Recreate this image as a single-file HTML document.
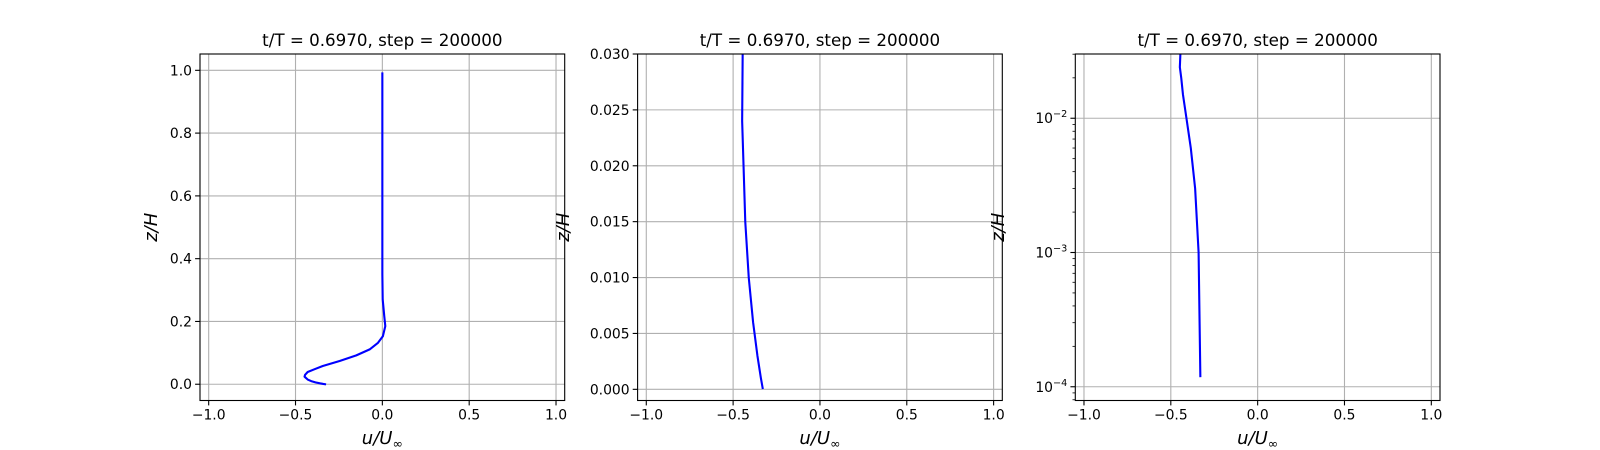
<!DOCTYPE html>
<html><head><meta charset="utf-8"><style>
html,body{margin:0;padding:0;background:#fff;}
svg{display:block;font-family:"DejaVu Sans","Liberation Sans",sans-serif;}
</style></head><body>
<svg id="fig" width="1600" height="450" xmlns="http://www.w3.org/2000/svg"></svg>
<script>
const zData = [0.00012, 0.001, 0.003, 0.006, 0.01, 0.015, 0.02, 0.024, 0.03, 0.039, 0.048, 0.058, 0.074, 0.092, 0.111, 0.132, 0.153, 0.185, 0.217, 0.27, 0.35, 0.5, 0.7, 0.99];
const uData = [-0.33, -0.34, -0.36, -0.385, -0.41, -0.43, -0.44, -0.448, -0.445, -0.43, -0.39, -0.343, -0.246, -0.15, -0.073, -0.025, 0.003, 0.017, 0.011, 0.002, 0, 0, 0, 0];
const xTicks = [-1.0, -0.5, 0.0, 0.5, 1.0];
const xTickLabels = ["\u22121.0", "\u22120.5", "0.0", "0.5", "1.0"];
const y1Ticks = [0.0, 0.2, 0.4, 0.6, 0.8, 1.0];
const y1TickLabels = ["0.0", "0.2", "0.4", "0.6", "0.8", "1.0"];
const y2Ticks = [0.0, 0.005, 0.01, 0.015, 0.02, 0.025, 0.03];
const y2TickLabels = ["0.000", "0.005", "0.010", "0.015", "0.020", "0.025", "0.030"];
const y3Exps = [-4, -3, -2];
const titleText = "t/T = 0.6970, step = 200000";

const NS = "http://www.w3.org/2000/svg";
const svg = document.getElementById('fig');
function mk(tag, attrs, parent) {
  const e = document.createElementNS(NS, tag);
  for (const k in attrs) e.setAttribute(k, attrs[k]);
  (parent || svg).appendChild(e);
  return e;
}
const axTop = 54, axBot = 400.5, W = 364.7;
const panels = [
  {x0: 200, ylim: [-0.0518, 1.052], log: false, ticks: y1Ticks, labels: y1TickLabels},
  {x0: 637.6, ylim: [-0.001, 0.030], log: false, ticks: y2Ticks, labels: y2TickLabels},
  {x0: 1075.3, ylim: [Math.log10(7.9e-5), Math.log10(0.0301)], log: true}
];
panels.forEach((p, i) => {
  const g = mk('g', {});
  
  
  const xs = v => p.x0 + (v + 1.05) / 2.1 * W;
  const ys = v => {
    const t = p.log ? Math.log10(v) : v;
    return axBot - (t - p.ylim[0]) / (p.ylim[1] - p.ylim[0]) * (axBot - axTop);
  };
  xTicks.forEach((v, k) => {
    const x = xs(v);
    const gl = mk('line', {x1: x, x2: x, y1: axTop, y2: axBot, stroke: '#b0b0b0', 'stroke-width': 1.1}, g);
    
    
    mk('line', {x1: x, x2: x, y1: axBot, y2: axBot + 4.9, stroke: '#000', 'stroke-width': 1.1}, g);
    const t = mk('text', {x: x, y: axBot + 19, 'text-anchor': 'middle', 'font-size': 13.9}, g);
    t.textContent = xTickLabels[k];
    
    
  });
  if (!p.log) {
    p.ticks.forEach((v, k) => {
      const y = ys(v);
      const gl = mk('line', {x1: p.x0, x2: p.x0 + W, y1: y, y2: y, stroke: '#b0b0b0', 'stroke-width': 1.1}, g);
      
      
      mk('line', {x1: p.x0 - 4.9, x2: p.x0, y1: y, y2: y, stroke: '#000', 'stroke-width': 1.1}, g);
      const t = mk('text', {x: p.x0 - 8, y: y + 5, 'text-anchor': 'end', 'font-size': 13.9}, g);
      t.textContent = p.labels[k];
      
      
    });
  } else {
    y3Exps.forEach(e => {
      const y = ys(Math.pow(10, e));
      const gl = mk('line', {x1: p.x0, x2: p.x0 + W, y1: y, y2: y, stroke: '#b0b0b0', 'stroke-width': 1.1}, g);
      
      
      mk('line', {x1: p.x0 - 4.9, x2: p.x0, y1: y, y2: y, stroke: '#000', 'stroke-width': 1.1}, g);
      const t = mk('text', {x: p.x0 - 8, y: y + 5, 'text-anchor': 'end', 'font-size': 13.9}, g);
      
      
      const a = mk('tspan', {}, t); a.textContent = '10';
      const b = mk('tspan', {dy: -6, 'font-size': 9.7}, t); b.textContent = '\u2212' + (-e);
    });
    for (let e = -5; e <= -2; e++) for (let m = 2; m <= 9; m++) {
      const v = m * Math.pow(10, e);
      const lv = Math.log10(v);
      if (lv < p.ylim[0] || lv > p.ylim[1]) continue;
      const y = ys(v);
      mk('line', {x1: p.x0 - 2.8, x2: p.x0, y1: y, y2: y, stroke: '#000', 'stroke-width': 0.8}, g);
    }
  }
  const cid = 'clip' + i;
  const cp = mk('clipPath', {id: cid}, g);
  mk('rect', {x: p.x0, y: axTop, width: W, height: axBot - axTop}, cp);
  let d = '';
  zData.forEach((z, k) => { d += (k ? 'L' : 'M') + xs(uData[k]).toFixed(2) + ',' + ys(z).toFixed(2); });
  const path = mk('path', {d: d, fill: 'none', stroke: '#0000ff', 'stroke-width': 2.1, 'clip-path': 'url(#' + cid + ')', 'stroke-linejoin': 'round', 'stroke-linecap': 'square'}, g);
  
  
  const fr = mk('rect', {x: p.x0, y: axTop, width: W, height: axBot - axTop, fill: 'none', stroke: '#000', 'stroke-width': 1.1}, g);
  
  
  const tt = mk('text', {x: p.x0 + W / 2, y: axTop - 8, 'text-anchor': 'middle', 'font-size': 16.7}, g);
  tt.textContent = titleText;
  
  
  const xl = mk('text', {x: p.x0 + W / 2, y: 444, 'text-anchor': 'middle', 'font-size': 18, 'font-style': 'italic'}, g);
  
  
  const s1 = mk('tspan', {}, xl); s1.textContent = 'u/U';
  const s2 = mk('tspan', {dy: 4, 'font-size': 12.5, 'font-style': 'normal'}, xl); s2.textContent = '\u221e';
  const lx = i === 0 ? 157 : (i === 1 ? 569 : 1004);
  const ly = (axTop + axBot) / 2;
  const yl = mk('text', {x: lx, y: ly, 'text-anchor': 'middle', 'font-size': 18, 'font-style': 'italic', transform: 'rotate(-90 ' + lx + ' ' + ly + ')'}, g);
  yl.textContent = 'z/H';
  
  
});
</script>
</body></html>
